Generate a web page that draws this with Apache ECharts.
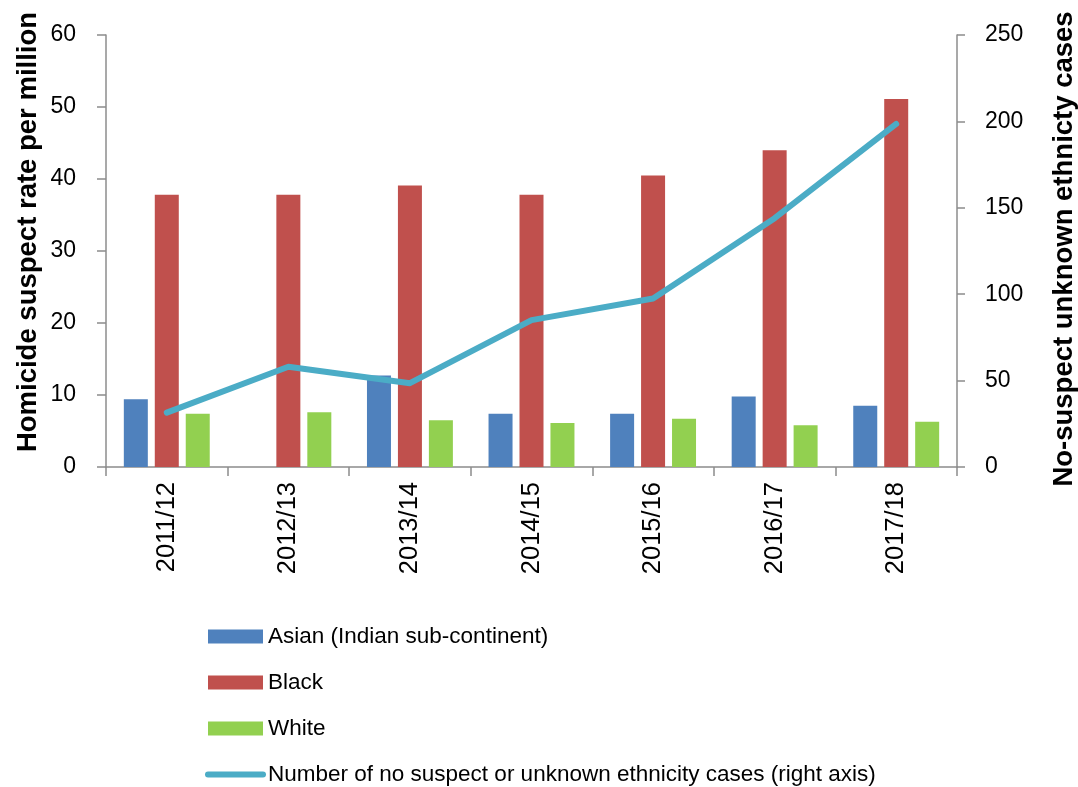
<!DOCTYPE html>
<html>
<head>
<meta charset="utf-8">
<script src="https://cdn.jsdelivr.net/npm/echarts@6/dist/echarts.min.js"></script>
<style>
html,body{margin:0;padding:0;background:#fff;}
#chart{width:1078px;height:787px;}
</style>
</head>
<body>
<div id="chart"></div>
<script>
var categories = ['2011/12','2012/13','2013/14','2014/15','2015/16','2016/17','2017/18'];
var asian = [9.4, null, 12.7, 7.4, 7.4, 9.8, 8.5];
var black = [37.8, 37.8, 39.1, 37.8, 40.5, 44.0, 51.1];
var white = [7.4, 7.6, 6.5, 6.1, 6.7, 5.8, 6.3];
var noSuspect = [31.5, 58, 48.5, 85, 97.5, 144, 198.5];
var leftTicks = {min: 0, max: 60, interval: 10};
var rightTicks = {min: 0, max: 250, interval: 50};
var leftTitle = 'Homicide suspect rate per million';
var rightTitle = 'No-suspect unknown ethnicty cases';
var seriesNames = ['Asian (Indian sub-continent)', 'Black', 'White', 'Number of no suspect or unknown ethnicity cases (right axis)'];

var FONT = '"Liberation Sans", Arial, sans-serif';
var axisColor = '#8c8c8c';

var chart = echarts.init(document.getElementById('chart'), null, {renderer: 'canvas'});
chart.setOption({
  animation: false,
  backgroundColor: '#ffffff',
  textStyle: {fontFamily: FONT},
  grid: {left: 106, right: 121, top: 35, bottom: 320, containLabel: false},
  legend: {
    orient: 'vertical',
    left: 205,
    top: 625,
    padding: 0,
    height: 220,
    itemWidth: 55,
    itemHeight: 14,
    itemGap: 23,
    textStyle: {fontSize: 22.5, color: '#000', fontFamily: FONT},
    data: [
      {name: seriesNames[0], icon: 'rect'},
      {name: seriesNames[1], icon: 'rect'},
      {name: seriesNames[2], icon: 'rect'},
      {name: seriesNames[3], itemStyle: {opacity: 0}, lineStyle: {width: 6, cap: 'round', color: '#4BACC6'}}
    ]
  },
  xAxis: {
    type: 'category',
    data: categories,
    axisLine: {lineStyle: {color: axisColor, width: 1.5}},
    axisTick: {show: true, length: 9, lineStyle: {color: axisColor, width: 1.5}},
    axisLabel: {rotate: 90, margin: 15, fontSize: 25.5, color: '#000', fontFamily: FONT}
  },
  yAxis: [
    {
      type: 'value', position: 'left',
      min: leftTicks.min, max: leftTicks.max, interval: leftTicks.interval,
      axisLine: {show: true, lineStyle: {color: axisColor, width: 1.5}},
      axisTick: {show: true, length: 9, lineStyle: {color: axisColor, width: 1.5}},
      axisLabel: {margin: 30, fontSize: 23, color: '#000', fontFamily: FONT},
      splitLine: {show: false}
    },
    {
      type: 'value', position: 'right',
      min: rightTicks.min, max: rightTicks.max, interval: rightTicks.interval,
      axisLine: {show: true, lineStyle: {color: axisColor, width: 1.5}},
      axisTick: {show: true, length: 8, lineStyle: {color: axisColor, width: 1.5}},
      axisLabel: {margin: 28, fontSize: 23, color: '#000', fontFamily: FONT},
      splitLine: {show: false}
    }
  ],
  series: [
    {name: seriesNames[0], type: 'bar', data: asian, barWidth: 24, barGap: '29%', itemStyle: {color: '#4F81BD'}},
    {name: seriesNames[1], type: 'bar', data: black, barWidth: 24, barGap: '29%', itemStyle: {color: '#C0504D'}},
    {name: seriesNames[2], type: 'bar', data: white, barWidth: 24, barGap: '29%', itemStyle: {color: '#92D050'}},
    {name: seriesNames[3], type: 'line', yAxisIndex: 1, data: noSuspect, symbol: 'none', z: 5,
     lineStyle: {color: '#4BACC6', width: 6, cap: 'round', join: 'round'}, itemStyle: {color: '#4BACC6'}}
  ],
  graphic: [
    {type: 'text', x: 28, y: 232, rotation: Math.PI / 2,
     style: {text: leftTitle, x: 0, y: 0, align: 'center', verticalAlign: 'middle', font: 'bold 27.5px ' + FONT, fill: '#000'}},
    {type: 'text', x: 1064, y: 249, rotation: Math.PI / 2,
     style: {text: rightTitle, x: 0, y: 0, align: 'center', verticalAlign: 'middle', font: 'bold 27.5px ' + FONT, fill: '#000'}}
  ]
});
</script>
</body>
</html>
